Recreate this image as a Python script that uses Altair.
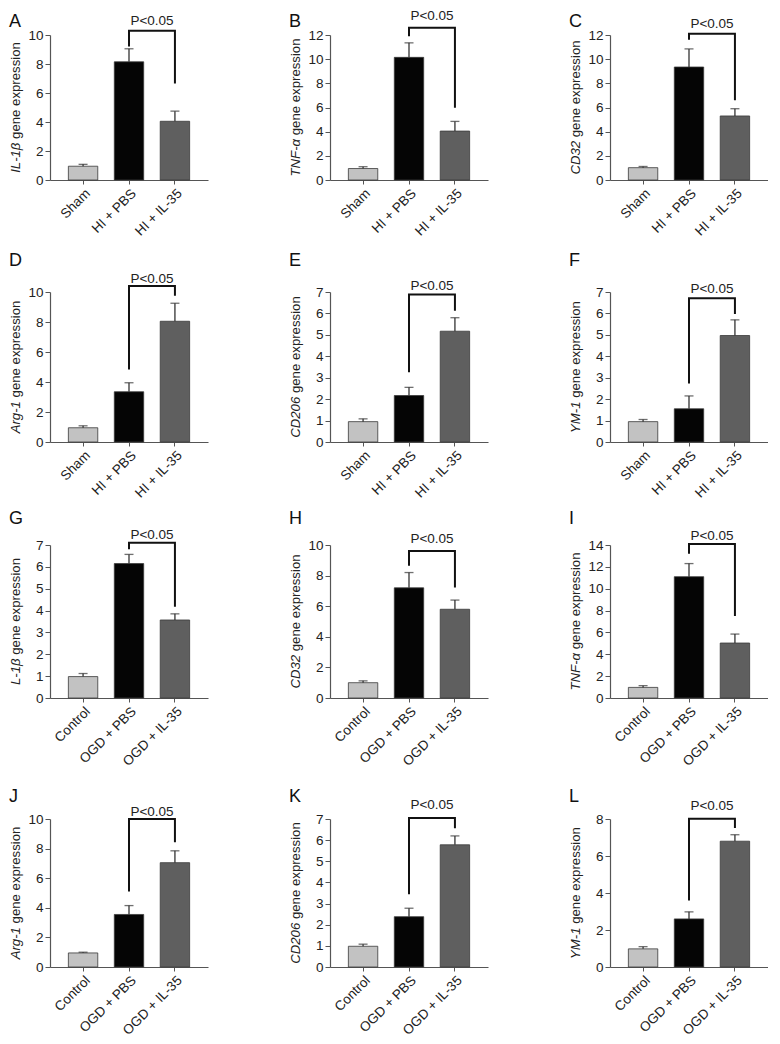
import altair as alt
import pandas as pd

FONT = "Liberation Sans"

GROUPS_HI = ["Sham", "HI + PBS", "HI + IL-35"]
GROUPS_OGD = ["Control", "OGD + PBS", "OGD + IL-35"]
BAR_COLORS = ["#c2c2c2", "#050505", "#5f5f5f"]

LETTERS = ["A", "B", "C", "D", "E", "F", "G", "H", "I", "J", "K", "L"]
GENES = ["IL-1β", "TNF-α", "CD32", "Arg-1", "CD206", "YM-1",
         "L-1β", "CD32", "TNF-α", "Arg-1", "CD206", "YM-1"]
MEANS = [
    [0.95, 8.15, 4.05],
    [0.95, 10.15, 4.05],
    [1.02, 9.35, 5.30],
    [0.95, 3.35, 8.05],
    [0.95, 2.17, 5.17],
    [0.95, 1.55, 4.97],
    [0.98, 6.15, 3.57],
    [1.00, 7.20, 5.80],
    [0.97, 11.10, 5.03],
    [0.95, 3.55, 7.05],
    [0.98, 2.38, 5.78],
    [0.98, 2.60, 6.80],
]
SEM = [
    [0.13, 0.90, 0.70],
    [0.15, 1.20, 0.80],
    [0.10, 1.50, 0.60],
    [0.13, 0.60, 1.20],
    [0.13, 0.38, 0.63],
    [0.10, 0.60, 0.73],
    [0.14, 0.42, 0.28],
    [0.12, 1.00, 0.60],
    [0.16, 1.20, 0.82],
    [0.05, 0.60, 0.80],
    [0.10, 0.40, 0.42],
    [0.12, 0.38, 0.35],
]
Y_MAX = [10, 12, 12, 10, 7, 7, 7, 10, 14, 10, 7, 8]
Y_STEP = [2, 2, 2, 2, 1, 1, 1, 2, 2, 2, 1, 2]
BRACKET_TOP = [10.3, 12.6, 12.1, 10.4, 6.88, 6.71, 7.1, 9.6, 14.09, 10.0, 7.05, 8.02]
BRACKET_LEFT = [9.2, 11.9, 11.6, 4.83, 3.25, 2.73, 6.8, 8.65, 13.2, 5.1, 3.44, 3.6]
BRACKET_RIGHT = [6.65, 5.98, 6.6, 9.75, 6.13, 5.97, 4.17, 7.22, 7.5, 8.43, 6.56, 7.52]
P_LABEL_Y = [11.0, 13.6, 12.9, 10.9, 7.26, 7.16, 7.46, 10.4, 14.85, 10.5, 7.66, 8.71]
P_TEXT = "P<0.05"

# layout (pixels)
PANEL_W = 158
ROW_H = [145, 150, 153, 148]
LETTER_Y = [-8, -26, -21, -17]
FS = 13.5
TITLE_SIZE = 13.2

CHAR_W = {"I": 278, "L": 556, "-": 333, "1": 556, "β": 575, "T": 611, "N": 722,
          "F": 611, "α": 578, "C": 722, "D": 722, "3": 556, "2": 556, "0": 556,
          "6": 556, "A": 667, "r": 333, "g": 556, "Y": 667, "M": 833, " ": 278,
          "e": 556, "n": 556, "x": 500, "p": 556, "s": 500, "i": 222, "o": 556}


def text_w(s, size):
    return sum(CHAR_W.get(c, 556) for c in s) * size / 1000.0


def panel(i):
    row = i // 3
    H = ROW_H[row]
    groups = GROUPS_HI if i < 6 else GROUPS_OGD
    means = MEANS[i]
    uppers = [m + e for m, e in zip(means, SEM[i])]
    df = pd.DataFrame({"group": groups, "mean": means, "upper": uppers})

    xscale = alt.Scale(domain=groups, paddingInner=0.36, paddingOuter=0.4)
    yscale = alt.Scale(domain=[0, Y_MAX[i]], nice=False, zero=True)
    xaxis = alt.Axis(title=None, labelAngle=-45, labelFontSize=FS, labelFont=FONT,
                     labelColor="#222", tickSize=4, tickColor="#555", domainColor="#555",
                     domainWidth=1.2, labelPadding=2)
    yaxis = alt.Axis(title=None, values=list(range(0, Y_MAX[i] + 1, Y_STEP[i])),
                     labelFontSize=FS, labelFont=FONT, labelColor="#222", tickSize=5,
                     tickColor="#555", domainColor="#555", domainWidth=1.2, grid=False,
                     labelPadding=2)
    X = lambda f="group": alt.X(f"{f}:N", scale=xscale, axis=xaxis, sort=groups)
    Y = lambda f: alt.Y(f"{f}:Q", scale=yscale, axis=yaxis)

    bars = alt.Chart(df).mark_bar(stroke="#3a3a3a", strokeWidth=0.8).encode(
        x=X(), y=Y("mean"),
        color=alt.Color("group:N", scale=alt.Scale(domain=groups, range=BAR_COLORS), legend=None),
    )
    err = alt.Chart(df).mark_rule(color="#333", strokeWidth=1.3).encode(
        x=X(), y=Y("mean"), y2="upper:Q")
    cap = alt.Chart(df).mark_tick(color="#333", size=9, thickness=1.3).encode(
        x=X(), y=Y("upper"))

    bdf = pd.DataFrame({
        "group": [groups[1], groups[1], groups[2], groups[2]],
        "y": [BRACKET_LEFT[i], BRACKET_TOP[i], BRACKET_TOP[i], BRACKET_RIGHT[i]],
        "k": [0, 1, 2, 3],
    })
    bracket = alt.Chart(bdf).mark_line(color="#111", strokeWidth=2).encode(
        x=X(), y=Y("y"), order="k:Q")

    step = PANEL_W / (3 - 0.36 + 0.8)
    pdf = pd.DataFrame({"group": [groups[1]], "y": [P_LABEL_Y[i]], "t": [P_TEXT]})
    ptext = alt.Chart(pdf).mark_text(dx=step / 2, fontSize=FS, font=FONT, color="#222",
                                     baseline="middle").encode(
        x=X(), y=Y("y"), text="t:N")

    # y-axis title: italic gene name + regular text
    gene = GENES[i]
    rest = "gene expression"
    gw = text_w(gene, TITLE_SIZE)
    rw = text_w(rest, TITLE_SIZE)
    gap = text_w(" ", TITLE_SIZE)
    total = gw + gap + rw
    gene_anchor = H / 2 + total / 2 - gw
    rest_anchor = gene_anchor - gap
    gtitle = alt.Chart(pd.DataFrame({"t": [gene]})).mark_text(
        angle=270, align="right", baseline="middle", fontStyle="italic",
        fontSize=TITLE_SIZE, font=FONT, color="#222").encode(
        text="t:N", x=alt.value(-34), y=alt.value(gene_anchor))
    rtitle = alt.Chart(pd.DataFrame({"t": [rest]})).mark_text(
        angle=270, align="left", baseline="middle",
        fontSize=TITLE_SIZE, font=FONT, color="#222").encode(
        text="t:N", x=alt.value(-34), y=alt.value(rest_anchor))

    letter = alt.Chart(pd.DataFrame({"t": [LETTERS[i]]})).mark_text(
        align="left", baseline="alphabetic", fontSize=18, font=FONT, color="#111").encode(
        text="t:N", x=alt.value(-41), y=alt.value(LETTER_Y[row]))

    return alt.layer(bars, err, cap, bracket, ptext, gtitle, rtitle, letter).properties(
        width=PANEL_W, height=H)


# With flush bounds, a nested concat counts as zero-size, so the spacing
# between rows below is the distance between the rows' top edges.
rows = [alt.hconcat(*[panel(r * 3 + c) for c in range(3)], spacing=122, bounds="flush")
        for r in range(4)]
upper = alt.vconcat(rows[0], rows[1], spacing=257, bounds="flush")
lower = alt.vconcat(rows[2], rows[3], spacing=274, bounds="flush")
chart = alt.vconcat(upper, lower, spacing=510, bounds="flush").properties(
    padding=0, background="white"
).configure_view(strokeWidth=0)

chart.save("out.html", embed_options={"renderer": "svg", "actions": False})
